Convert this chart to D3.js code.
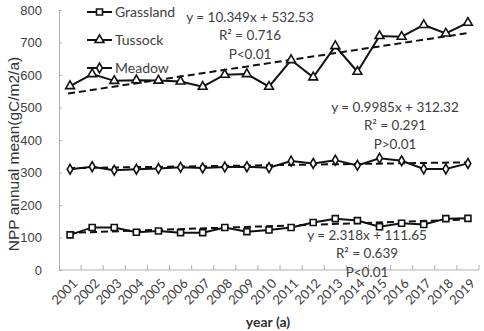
<!DOCTYPE html>
<html>
<head>
<meta charset="utf-8">
<script src="https://cdn.jsdelivr.net/npm/d3@7"></script>
<style>
  body { margin: 0; background: #fff; }
  svg { display: block; }
  .narrow { font-family: Lato, "Open Sans", sans-serif; }
</style>
</head>
<body>
<svg id="chart"></svg>
<script>
var W = 484,
    H = 331;

// years on x axis
var years = ["2001","2002","2003","2004","2005","2006","2007","2008","2009","2010",
             "2011","2012","2013","2014","2015","2016","2017","2018","2019"];
// series values
var grassland = [108,131,131,116,120,115,115,131,118,123,131,146,158,152,133,144,140,158,159];
var tussock   = [566,603,582,584,583,580,564,601,603,564,646,593,689,610,720,718,754,728,761];
var meadow    = [310,318,307,310,312,316,314,317,318,315,335,328,338,322,344,336,311,311,328];
var seriesNames = ["Grassland","Tussock","Meadow"];
// trend equations (labels on the chart)
var slopes = [2.318, 10.349, 0.9985];
var intercepts = [111.65, 532.53, 312.32];
var r2Labels = ["0.639", "0.716", "0.291"];
var pLabels = ["P<0.01", "P<0.01", "P>0.01"];
var yTicks = [0,100,200,300,400,500,600,700,800];

var svg = d3.select("#chart").attr("width", W).attr("height", H);

var x = d3.scaleBand().domain(years).range([59, 479]);
var y = d3.scaleLinear().domain([0, 800]).range([270, 10]);

var txt = "#404040";
var axisCol = "#b0b0b0";

// y axis
var yAxis = svg.append("g").attr("transform", "translate(59,0)")
    .call(d3.axisLeft(y).tickValues(yTicks).tickSize(-3).tickPadding(17).tickSizeOuter(0));
yAxis.select(".domain").attr("stroke", axisCol);
yAxis.selectAll(".tick line").attr("stroke", axisCol);
yAxis.selectAll("text").attr("fill", txt)
    .style("font-family", "Liberation Sans, Arial, sans-serif").style("font-size", "13px");

// x axis line
svg.append("line").attr("x1", 59).attr("x2", 479).attr("y1", 270).attr("y2", 270)
    .attr("stroke", axisCol);
// x ticks on band boundaries
var bounds = years.map(function (d) { return x(d) + x.bandwidth(); });
svg.selectAll("line.xtick").data(bounds).enter().append("line")
    .attr("class", "xtick")
    .attr("x1", function (d) { return d; }).attr("x2", function (d) { return d; })
    .attr("y1", 270).attr("y2", 265)
    .attr("stroke", axisCol);
// x labels
svg.selectAll("text.xlab").data(years).enter().append("text")
    .attr("class", "xlab narrow")
    .attr("transform", function (d) {
        return "translate(" + (x(d) + x.bandwidth() / 2 + 5) + ",281)rotate(-45)";
    })
    .attr("text-anchor", "end")
    .attr("dy", "0.35em")
    .attr("fill", txt)
    .style("font-size", "13px")
    .text(function (d) { return d; });

// axis titles
svg.append("text")
    .attr("transform", "translate(19,154)rotate(-90)")
    .attr("text-anchor", "middle")
    .attr("fill", "#333")
    .style("font-family", "Liberation Sans, Arial, sans-serif")
    .style("font-size", "15.5px")
    .text("NPP annual mean(gC/m2/a)");
svg.append("text")
    .attr("class", "narrow")
    .attr("x", 268).attr("y", 327)
    .attr("text-anchor", "middle")
    .attr("fill", "#333")
    .style("font-size", "14px").style("font-weight", "bold")
    .text("year (a)");

// trend lines
var allSeries = [grassland, tussock, meadow];
allSeries.forEach(function (vals, i) {
    var a = slopes[i], b = intercepts[i];
    svg.append("line")
        .attr("x1", x(years[0]) + x.bandwidth() / 2 - 2)
        .attr("x2", x(years[years.length - 1]) + x.bandwidth() / 2)
        .attr("y1", y(a * 1 + b))
        .attr("y2", y(a * years.length + b))
        .attr("stroke", "#111").attr("stroke-width", 2)
        .attr("stroke-dasharray", "7,4");
});

// series lines
var line = d3.line()
    .x(function (d, i) { return x(years[i]) + x.bandwidth() / 2; })
    .y(function (d) { return y(d); });

var symbols = [d3.symbolSquare, d3.symbolTriangle, d3.symbolDiamond];
var symSizes = [36, 34, 28];

function marker(g, i) {
    g.append("path")
        .attr("d", d3.symbol().type(symbols[i]).size(symSizes[i])())
        .attr("fill", "#fff")
        .attr("stroke", "#111")
        .attr("stroke-width", 1.6);
}

allSeries.forEach(function (vals, i) {
    svg.append("path").datum(vals)
        .attr("d", line)
        .attr("fill", "none")
        .attr("stroke", "#111")
        .attr("stroke-width", 2);
    svg.selectAll("g.pt" + i).data(vals).enter().append("g")
        .attr("class", "pt" + i)
        .attr("transform", function (d, j) {
            return "translate(" + (x(years[j]) + x.bandwidth() / 2) + "," + y(d) + ")";
        })
        .each(function () { marker(d3.select(this), i); });
});

// legend
seriesNames.forEach(function (name, i) {
    var ly = 12 + i * 28;
    var lg = svg.append("g").attr("transform", "translate(87," + ly + ")");
    lg.append("line").attr("x1", 0).attr("x2", 25).attr("y1", 0).attr("y2", 0)
        .attr("stroke", "#111").attr("stroke-width", 2);
    var m = lg.append("g").attr("transform", "translate(12.5,0)");
    marker(m, i);
    lg.append("text").attr("class", "narrow")
        .attr("x", 28).attr("y", 0).attr("dy", "0.35em")
        .attr("fill", txt).style("font-size", "14px")
        .text(name);
});

// equation annotations
var annPos = [[367, 235], [250, 17], [395, 107]];
var eqText = function (i) {
    return "y = " + slopes[i] + "x + " + intercepts[i].toFixed(2);
};
annPos.forEach(function (p, i) {
    var t = svg.append("text").attr("class", "narrow")
        .attr("text-anchor", "middle")
        .attr("fill", txt)
        .style("font-size", "13.5px");
    var lines = [eqText(i), "R\u00b2 = " + r2Labels[i], pLabels[i]];
    lines.forEach(function (s, k) {
        t.append("tspan").attr("x", p[0]).attr("y", p[1] + k * 18.5)
            .attr("dy", "0.35em").text(s);
    });
});
</script>
</body>
</html>
